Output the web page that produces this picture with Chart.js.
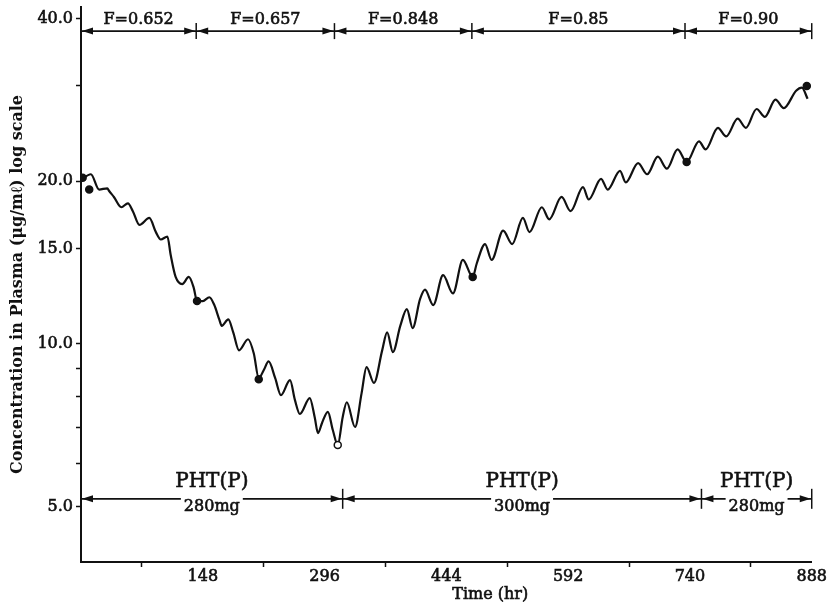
<!DOCTYPE html>
<html>
<head>
<meta charset="utf-8">
<script src="https://cdn.jsdelivr.net/npm/chart.js@4/dist/chart.umd.min.js"></script>
<style>
  body { margin: 0; background: #fff; }
  #wrap { width: 827px; height: 605px; position: relative; }
</style>
</head>
<body>
<div id="wrap"><canvas id="plasma-chart"></canvas></div>
<script>
// simulated plasma level, time in hr
const hours = [0, 12, 22, 32, 34, 40, 49, 57, 63, 71, 83, 91, 97, 105, 109, 115, 123, 131, 137, 141,
    148, 156, 162, 168, 171, 179, 185, 192, 203, 210, 216, 222, 228, 236, 243, 254, 260, 266, 278, 284,
    288, 293, 300, 306, 312, 318, 323, 333, 341, 347, 356, 366, 372, 379, 388, 396, 403, 412, 418, 428,
    440, 452, 464, 476, 481, 491, 499, 513, 524, 537, 545, 560, 569, 584, 595, 610, 617, 632, 640, 655,
    662, 677, 688, 701, 712, 725, 736, 751, 759, 774, 784, 798, 808, 821, 831, 844, 854, 869, 876, 883];
const conc = [20.1, 20.6, 19.3, 19.4, 19.2, 18.7, 17.9, 18.2, 17.6, 16.6, 17.1, 16.1, 15.6, 15.8, 14.6, 13.3, 12.9, 13.3, 12.7, 12.0,
    12.0, 12.2, 11.8, 11.1, 10.8, 11.1, 10.5, 9.73, 10.2, 9.6, 8.64, 8.94, 9.28, 8.64, 8.04, 8.57, 7.87, 7.42, 7.94, 7.32,
    6.84, 7.15, 7.49, 6.93, 6.5, 7.32, 7.8, 7.02, 8.11, 9.06, 8.47, 9.73, 10.5, 9.66, 10.8, 11.6, 10.7, 12.1, 12.6, 11.8,
    13.4, 12.4, 14.3, 13.3, 14.1, 15.3, 14.3, 16.2, 15.3, 17.1, 16.1, 17.9, 17.0, 18.7, 17.6, 19.5, 18.5, 20.2, 19.3, 20.9,
    19.9, 21.6, 20.6, 22.2, 21.1, 22.9, 21.7, 23.7, 22.9, 25.1, 24.2, 26.1, 25.1, 27.2, 26.3, 28.3, 27.3, 29.4, 29.8, 28.4];

// observed serum levels
const obsHours = [2, 10, 141, 216, 312, 476, 736, 882];
const obsConc = [20.3, 19.3, 12.0, 8.6, 6.5, 13.3, 21.7, 30.0];

// bioavailability periods (top) and dosing periods (bottom)
const fBounds = [0, 140, 308, 475, 734, 888];
const fLabels = ['F=0.652', 'F=0.657', 'F=0.848', 'F=0.85', 'F=0.90'];
const doseBounds = [0, 318, 754, 888];
const doseNames = ['PHT(P)', 'PHT(P)', 'PHT(P)'];
const doseAmounts = ['280mg', '300mg', '280mg'];

// axis ticks
const yTicks = [5, 6, 7, 8, 9, 10, 15, 20, 30, 40];
const yLabeled = [5, 10, 15, 20, 40];

const FONT = 'DejaVu Serif';
const INK = '#111';

function arrowHead(ctx, tipX, yy, dir) {
    ctx.beginPath();
    ctx.moveTo(tipX, yy);
    ctx.lineTo(tipX - dir * 11, yy - 3.5);
    ctx.lineTo(tipX - dir * 11, yy + 3.5);
    ctx.closePath();
    ctx.fill();
}

// draws a bracket bar with arrows pointing to each boundary
function drawBar(ctx, x, bounds, yy, tickHalf) {
    ctx.lineWidth = 1.8;
    ctx.beginPath();
    ctx.moveTo(x.getPixelForValue(bounds[0]), yy);
    ctx.lineTo(x.getPixelForValue(bounds[bounds.length - 1]), yy);
    ctx.stroke();
    for (let i = 0; i < bounds.length - 1; i++) {
        const a = x.getPixelForValue(bounds[i]);
        const b = x.getPixelForValue(bounds[i + 1]);
        arrowHead(ctx, a + 1, yy, -1);
        arrowHead(ctx, b - 1, yy, 1);
    }
    ctx.lineWidth = 1.5;
    bounds.slice(1).forEach(v => {
        const px = x.getPixelForValue(v);
        ctx.beginPath();
        ctx.moveTo(px, yy - tickHalf);
        ctx.lineTo(px, yy + tickHalf);
        ctx.stroke();
    });
}

// filled text with a thin outline so it looks as heavy as the scanned print
function heavyText(ctx, text, px, py) {
    ctx.lineWidth = 0.6;
    ctx.fillText(text, px, py);
    ctx.strokeText(text, px, py);
}

const bracketPlugin = {
    id: 'brackets',
    afterDatasetsDraw(chart) {
        const {ctx, chartArea, scales: {x, y}} = chart;
        ctx.save();
        ctx.strokeStyle = INK;
        ctx.fillStyle = INK;
        ctx.textAlign = 'center';
        ctx.textBaseline = 'middle';

        // F = ... on top
        const yTop = y.getPixelForValue(37.9);
        drawBar(ctx, x, fBounds, yTop, 8);
        ctx.font = `16px "${FONT}"`;
        fLabels.forEach((label, i) => {
            const cx = (x.getPixelForValue(fBounds[i]) + x.getPixelForValue(fBounds[i + 1])) / 2;
            heavyText(ctx, label, cx, yTop - 11);
        });

        // PHT(P) doses at the bottom
        const yBot = y.getPixelForValue(5.17);
        drawBar(ctx, x, doseBounds, yBot, 10);
        doseAmounts.forEach((amount, i) => {
            const cx = (x.getPixelForValue(doseBounds[i]) + x.getPixelForValue(doseBounds[i + 1])) / 2;
            ctx.font = `16px "${FONT}"`;
            const w = ctx.measureText(amount).width;
            ctx.fillStyle = '#fff';
            ctx.fillRect(cx - w / 2 - 3, yBot - 1, w + 6, 17);
            ctx.fillStyle = INK;
            heavyText(ctx, amount, cx, yBot + 8);
            ctx.font = `20px "${FONT}"`;
            heavyText(ctx, doseNames[i], cx, yBot - 17);
        });

        // x axis title sits a bit right of the axis centre in the original
        ctx.font = `16px "${FONT}"`;
        heavyText(ctx, 'Time (hr)', chartArea.left + chartArea.width * 0.56, 595);
        ctx.restore();
    }
};

new Chart(document.querySelector('#plasma-chart').getContext('2d'), {
    type: 'line',
    data: {
        datasets: [{
            label: 'simulated',
            data: hours.map((h, i) => ({x: h, y: conc[i]})),
            borderColor: INK,
            borderWidth: 2.2,
            pointRadius: 0,
            cubicInterpolationMode: 'monotone',
            order: 2
        }, {
            type: 'scatter',
            label: 'observed',
            data: obsHours.map((h, i) => ({x: h, y: obsConc[i]})),
            pointRadius: 3.5,
            pointBorderWidth: 1.5,
            pointBorderColor: INK,
            pointBackgroundColor: ctx => ctx.dataIndex === 4 ? '#fff' : INK,
            order: 1
        }]
    },
    options: {
        responsive: true,
        maintainAspectRatio: false,
        animation: false,
        layout: {padding: {left: 0, right: 15, top: 7, bottom: 0}},
        plugins: {legend: {display: false}, tooltip: {enabled: false}},
        scales: {
            x: {
                type: 'linear',
                min: 0,
                max: 888,
                afterFit: scale => { scale.height = 43; },
                border: {color: INK, width: 2},
                grid: {
                    drawOnChartArea: false,
                    tickLength: 5,
                    tickWidth: 1.5,
                    tickColor: ctx => (ctx.tick && ctx.tick.value % 148 === 0) ? 'rgba(0,0,0,0)' : INK
                },
                ticks: {
                    stepSize: 74,
                    autoSkip: false,
                    maxRotation: 0,
                    padding: 0,
                    color: INK,
                    textStrokeColor: INK,
                    textStrokeWidth: 0.6,
                    font: {family: FONT, size: 16},
                    callback: v => (v > 0 && v % 148 === 0) ? String(v) : ''
                }
            },
            y: {
                type: 'logarithmic',
                min: 3.95,
                max: 42,
                afterFit: scale => {
                    scale.width = 81;
                    scale.paddingTop = 0;
                    scale.paddingBottom = 0;
                },
                afterBuildTicks: scale => { scale.ticks = yTicks.map(v => ({value: v})); },
                border: {color: INK, width: 2},
                grid: {drawOnChartArea: false, tickLength: 5, tickWidth: 1.5, tickColor: INK},
                ticks: {
                    color: INK,
                    padding: 3,
                    textStrokeColor: INK,
                    textStrokeWidth: 0.6,
                    font: {family: FONT, size: 16},
                    callback: v => yLabeled.includes(v) ? v.toFixed(1) : ''
                },
                title: {
                    display: true,
                    text: 'Concentration in Plasma (μg/mℓ) log scale',
                    color: INK,
                    font: {family: FONT, size: 16, weight: 'bold'},
                    padding: {top: 8, bottom: 0}
                }
            }
        }
    },
    plugins: [bracketPlugin]
});
</script>
</body>
</html>
